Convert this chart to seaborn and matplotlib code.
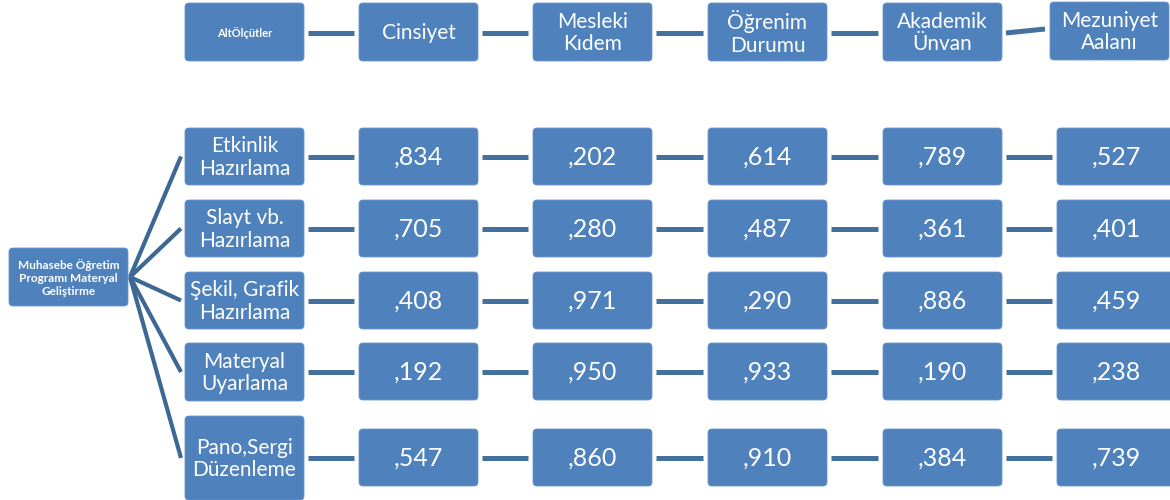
import numpy as np
import matplotlib.pyplot as plt
import seaborn as sns
from matplotlib.patches import FancyBboxPatch

# Data
criteria = ["Etkinlik\nHazırlama", "Slayt vb.\nHazırlama", "Şekil, Grafik\nHazırlama",
            "Materyal\nUyarlama", "Pano,Sergi\nDüzenleme"]
sub_criteria = ["Cinsiyet", "Mesleki\nKıdem", "Öğrenim\nDurumu", "Akademik\nÜnvan", "Mezuniyet\nAalanı"]
cinsiyet = [",834", ",705", ",408", ",192", ",547"]
mesleki_kidem = [",202", ",280", ",971", ",950", ",860"]
ogrenim_durumu = [",614", ",487", ",290", ",933", ",910"]
akademik_unvan = [",789", ",361", ",886", ",190", ",384"]
mezuniyet_alani = [",527", ",401", ",459", ",238", ",739"]
root_label = "Muhasebe Öğretim\nProgramı Materyal\nGeliştirme"
header_label = "AltÖlçütler"

columns = [cinsiyet, mesleki_kidem, ogrenim_durumu, akademik_unvan, mezuniyet_alani]

# Layout (pixels)
col_x = [359, 533, 708, 883, 1057]
box_w = 119
row_top = [128, 200, 272, 343, 429]
row_h = 57
label_x = 185
label_top = [128, 200, 272, 343, 416]
label_h = [57, 57, 57, 58, 84]
head_top = [3, 3, 3, 3, 3, 2]
head_x = [185, 359, 533, 708, 883, 1050]

sns.set_theme(style="white")
plt.rcParams["font.family"] = ["Lato", "DejaVu Sans"]
box_color = "#4F81BD"
edge_color = "#6a96cc"
line_color = "#41719C"
fan_color = "#3D6894"

fig = plt.figure(figsize=(11.7, 5), dpi=100)
ax = fig.add_axes([0, 0, 1, 1])
ax.set_xlim(0, 1170)
ax.set_ylim(500, 0)
ax.axis("off")


def box(x, y, w, h, text, size, weight="normal", ls=1.15):
    p = FancyBboxPatch((x, y), w, h, boxstyle="round,pad=0,rounding_size=4",
                       facecolor=box_color, edgecolor=edge_color, linewidth=0.6, zorder=2)
    ax.add_patch(p)
    ax.text(x + w / 2, y + h / 2 + 1, text, ha="center", va="center", color="white",
            fontsize=size, fontweight=weight, linespacing=ls, zorder=3)


# header row
head_texts = [header_label] + sub_criteria
for i, t in enumerate(head_texts):
    if i == 0:
        box(head_x[i], head_top[i], box_w, 58, t, 8, "bold")
    else:
        box(head_x[i], head_top[i], box_w, 58, t, 15)
for i in range(len(head_texts) - 1):
    x0 = head_x[i] + box_w + 4
    x1 = head_x[i + 1] - 5
    y0 = head_top[i] + 30
    y1 = head_top[i + 1] + 30 - (3 if i == 4 else 0)
    ax.plot([x0, x1], [y0, y1], color=line_color, lw=3.6, solid_capstyle="butt", zorder=1)

# root box and fan lines
box(9, 248, 119, 58, root_label, 8.5, "bold", 1.2)
for j in range(len(criteria)):
    yc = label_top[j] + label_h[j] / 2
    ax.plot([130, 181], [277, yc], color=fan_color, lw=3, solid_capstyle="butt", zorder=1)

# criteria rows
for j, name in enumerate(criteria):
    box(label_x, label_top[j], box_w, label_h[j], name, 15)
    yc = row_top[j] + row_h / 2
    xs = [label_x] + col_x
    for k, col in enumerate(columns):
        box(col_x[k], row_top[j], box_w, row_h, col[j], 18)
        ax.plot([xs[k] + box_w + 4, col_x[k] - 5], [yc, yc], color=line_color,
                lw=3.6, solid_capstyle="butt", zorder=1)

fig.savefig("out.png", dpi=100)
